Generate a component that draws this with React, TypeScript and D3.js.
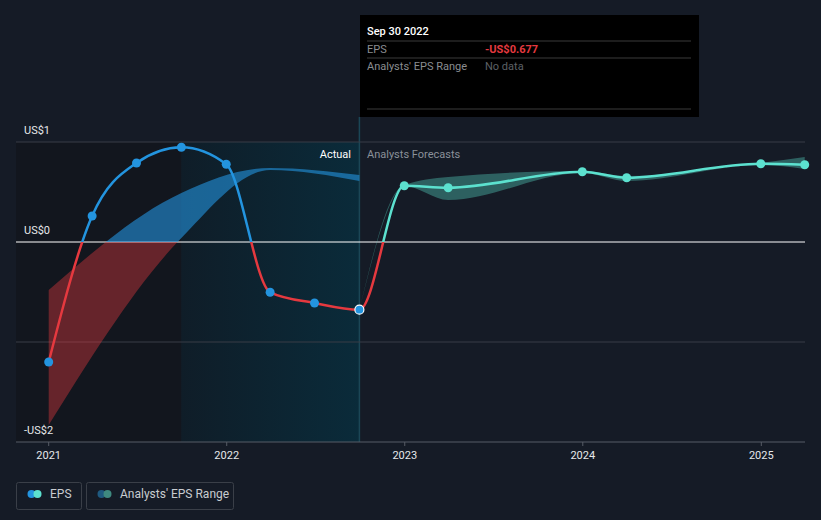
import React from "react";
import * as d3 from "d3";

// EPS history (US$)
const actualDates = ["2021-01-01", "2021-03-31", "2021-06-30", "2021-09-30", "2021-12-31", "2022-03-31", "2022-06-30", "2022-09-30"];
const actualEps = [-1.2, 0.26, 0.79, 0.947, 0.777, -0.503, -0.61, -0.677];

// past analyst range
const pastRangeDates = ["2021-01-01", "2021-09-30", "2022-03-31", "2022-09-30"];
const pastRangeLow = [-1.83, 0.04, 0.72, 0.61];
const pastRangeHigh = [-0.48, 0.49, 0.74, 0.67];

// forecasts
const forecastDates = ["2022-09-30", "2022-12-31", "2023-03-31", "2023-12-31", "2024-03-31", "2024-12-31", "2025-03-31"];
const forecastEps = [-0.677, 0.563, 0.543, 0.703, 0.643, 0.783, 0.773];
const forecastLow = [-0.677, 0.56, 0.42, 0.69, 0.61, 0.77, 0.73];
const forecastHigh = [-0.677, 0.57, 0.65, 0.71, 0.66, 0.79, 0.85];

const yTicks = [1, 0, -1, -2];
const yLabels = ["US$1", "US$0", "", "-US$2"];
const xTickYears = [2021, 2022, 2023, 2024, 2025];

const W = 821;
const H = 520;
const BG = "#151b26";
const BLUE = "#2394df";
const RED = "#e5393f";
const TEAL = "#5ce1cf";

const parse = d3.timeParse("%Y-%m-%d");

const App = () => {
  const x = d3
    .scaleTime()
    .domain([new Date(2021, 0, 1), new Date(2025, 0, 1)])
    .range([48.7, 761.3]);
  const y = d3.scaleLinear().domain([-2, 1]).range([442, 142]);
  const left = 16;
  const right = 805;
  const zeroY = y(0);

  const actual = actualDates.map((d, i) => ({ date: parse(d)!, v: actualEps[i] }));
  const past = pastRangeDates.map((d, i) => ({ date: parse(d)!, lo: pastRangeLow[i], hi: pastRangeHigh[i] }));
  const fc = forecastDates.map((d, i) => ({
    date: parse(d)!,
    v: forecastEps[i],
    lo: forecastLow[i],
    hi: forecastHigh[i],
  }));

  const line = d3
    .line<{ date: Date; v: number }>()
    .x((d) => x(d.date))
    .y((d) => y(d.v))
    .curve(d3.curveMonotoneX);
  const area = d3
    .area<{ date: Date; lo: number; hi: number }>()
    .x((d) => x(d.date))
    .y0((d) => y(d.lo))
    .y1((d) => y(d.hi))
    .curve(d3.curveMonotoneX);

  const hlStart = x(parse("2021-09-30")!);
  const now = x(parse("2022-09-30")!);

  const fullPath = line([...actual, ...fc.slice(1)]) || "";
  const font = "Roboto, 'Noto Sans', sans-serif";

  return (
    <svg width={W} height={H} style={{ position: "absolute", left: 0, top: 0, background: BG }}>
      <defs>
        <clipPath id="above">
          <rect x={0} y={0} width={W} height={zeroY} />
        </clipPath>
        <clipPath id="below">
          <rect x={0} y={zeroY} width={W} height={H - zeroY} />
        </clipPath>
        <clipPath id="aboveActual">
          <rect x={0} y={0} width={now} height={zeroY} />
        </clipPath>
        <clipPath id="aboveFc">
          <rect x={now} y={0} width={W - now} height={zeroY} />
        </clipPath>
        <linearGradient id="hl" x1="0" x2="1" y1="0" y2="0">
          <stop offset="0%" stopColor="#0f1d28" />
          <stop offset="100%" stopColor="#0a2b3a" />
        </linearGradient>
      </defs>
      <rect width={W} height={H} fill={BG} />

      {/* past / highlighted regions */}
      <rect x={left} y={y(1)} width={hlStart - left} height={y(-2) - y(1)} fill="#12161e" />
      <rect x={hlStart} y={y(1)} width={now - hlStart} height={y(-2) - y(1)} fill="url(#hl)" />
      <line x1={now} x2={now} y1={117} y2={y(-2)} stroke="#1b4656" strokeWidth={1.5} />

      {/* grid */}
      {yTicks.map((t, i) => (
        <g key={t}>
          <line
            x1={left}
            x2={right}
            y1={y(t)}
            y2={y(t)}
            stroke={t === 0 ? "#ffffff" : t === -2 ? "#575c66" : "#383d47"}
            strokeWidth={1}
          />
          {yLabels[i] && (
            <text x={24} y={y(t) - 8} fill="#e6e8ea" fontSize={11} fontFamily={font}>
              {yLabels[i]}
            </text>
          )}
        </g>
      ))}
      {xTickYears.map((yr) => {
        const xx = x(new Date(yr, 0, 1));
        return (
          <g key={yr}>
            <line x1={xx} x2={xx} y1={442} y2={446} stroke="#575c66" />
            <text x={xx} y={459} fill="#e6e8ea" fontSize={11} fontFamily={font} textAnchor="middle">
              {yr}
            </text>
          </g>
        );
      })}

      {/* past analyst range */}
      <path d={area(past) || ""} fill={BLUE} opacity={0.6} clipPath="url(#above)" />
      <path d={area(past) || ""} fill={RED} opacity={0.4} clipPath="url(#below)" />

      {/* forecast range */}
      <path d={area(fc) || ""} fill={TEAL} opacity={0.35} />

      {/* EPS line */}
      <path d={fullPath} fill="none" stroke={BLUE} strokeWidth={2.5} clipPath="url(#aboveActual)" />
      <path d={fullPath} fill="none" stroke={TEAL} strokeWidth={2.5} clipPath="url(#aboveFc)" />
      <path d={fullPath} fill="none" stroke={RED} strokeWidth={2.5} clipPath="url(#below)" />

      {actual.map((d, i) => (
        <circle
          key={i}
          cx={x(d.date)}
          cy={y(d.v)}
          r={4.5}
          fill={BLUE}
          stroke={i === actual.length - 1 ? "#ffffff" : "none"}
          strokeWidth={1.2}
        />
      ))}
      {fc.slice(1).map((d, i) => (
        <circle key={i} cx={x(d.date)} cy={y(d.v)} r={4.5} fill={TEAL} />
      ))}

      <text x={351} y={158} fill="#ffffff" fontSize={11} fontFamily={font} textAnchor="end">
        Actual
      </text>
      <text x={367} y={158} fill="#8a9099" fontSize={11} fontFamily={font}>
        Analysts Forecasts
      </text>

      {/* tooltip */}
      <rect x={360} y={15} width={339} height={102} fill="#000000" />
      <text x={367} y={35} fill="#ffffff" fontSize={11} fontFamily={font} fontWeight={500}>
        Sep 30 2022
      </text>
      <line x1={367} x2={691} y1={41} y2={41} stroke="#3a3a3a" />
      <text x={367} y={53} fill="#8a8d91" fontSize={11} fontFamily={font}>
        EPS
      </text>
      <text x={485} y={53} fill={RED} fontSize={11} fontFamily={font} fontWeight={700}>
        -US$0.677
      </text>
      <line x1={367} x2={691} y1={58} y2={58} stroke="#3a3a3a" />
      <text x={367} y={70} fill="#8a8d91" fontSize={11} fontFamily={font}>
        Analysts' EPS Range
      </text>
      <text x={485} y={70} fill="#5d6066" fontSize={11} fontFamily={font}>
        No data
      </text>
      <line x1={367} x2={691} y1={109} y2={109} stroke="#3a3a3a" />

      {/* legend */}
      <rect x={16.5} y={482.5} width={65} height={27} rx={2} fill="none" stroke="#3a3f48" />
      <circle cx={31.5} cy={494} r={4} fill={BLUE} />
      <circle cx={37.5} cy={494} r={4} fill={TEAL} />
      <text x={50} y={498} fill="#c8ccd0" fontSize={12} fontFamily={font}>
        EPS
      </text>
      <rect x={86.5} y={482.5} width={147} height={27} rx={2} fill="none" stroke="#3a3f48" />
      <circle cx={101.5} cy={494} r={4} fill="#1f5a80" />
      <circle cx={107.5} cy={494} r={4} fill="#3f8a80" />
      <text x={120} y={498} fill="#c8ccd0" fontSize={12} fontFamily={font}>
        Analysts' EPS Range
      </text>
    </svg>
  );
};

export default App;
